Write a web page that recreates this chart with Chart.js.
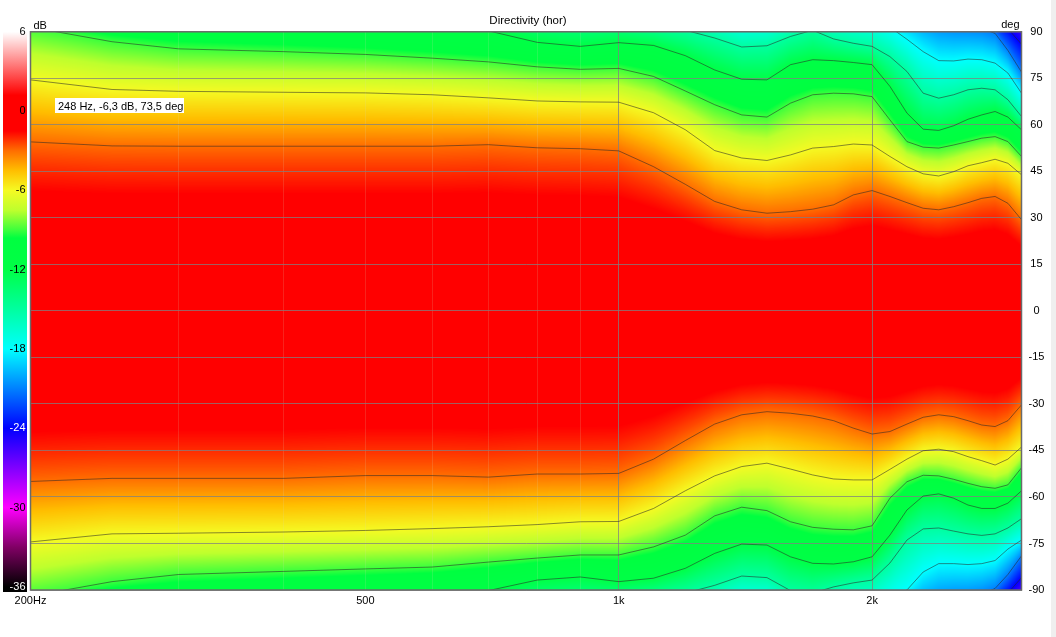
<!DOCTYPE html>
<html>
<head>
<meta charset="utf-8">
<title>Directivity (hor)</title>
<script src="https://cdn.jsdelivr.net/npm/chart.js@4.4.1/dist/chart.umd.min.js"></script>
<style>
  html, body { margin: 0; padding: 0; background: #fff; }
  #wrap { position: relative; width: 1056px; height: 637px; }
</style>
</head>
<body>
<div id="wrap"><canvas id="directivity"></canvas></div>
<script>
var freqs = [200, 250, 300, 400, 500, 600, 700, 800, 900, 1000, 1100, 1200, 1300, 1400, 1500,
             1600, 1700, 1800, 1900, 2000, 2100, 2200, 2300, 2400, 2500, 2600, 2700, 2800, 2900, 3010];

// Contour levels (dB re on-axis)
var levels = [-3, -6, -9, -12, -15, -18, -21, -24];

// Angle (deg) of each contour on the upper (+) side
var up3  = [54.5, 53.2, 53.1, 53.1, 53.1, 53.1, 53.6, 52.6, 52.3, 51.6, 46.5, 40.8, 35.3, 32.6, 31.5,
            32.0, 32.8, 34.2, 37.4, 38.8, 36.9, 34.9, 33.1, 32.6, 33.6, 34.9, 36.3, 36.9, 34.7, 29.4];
var up6  = [74.5, 71.4, 70.8, 70.5, 70.3, 69.7, 68.7, 67.7, 67.4, 67.3, 63.9, 58.4, 51.7, 49.3, 48.5,
            50.3, 52.5, 53.0, 53.8, 53.5, 49.8, 46.5, 44.2, 43.5, 44.9, 46.8, 47.8, 48.9, 47.6, 43.9];
var up9  = [91.5, 86.8, 84.5, 83.6, 82.7, 81.5, 80.3, 78.7, 77.9, 78.2, 75.6, 70.9, 66.5, 63.2, 62.5,
            67.0, 69.7, 70.2, 70.0, 69.1, 61.6, 54.6, 52.8, 52.5, 53.5, 54.6, 55.7, 56.2, 54.6, 49.8];
var up12 = [100, 98, 97, 95, 93.5, 92, 90.3, 86.6, 85.3, 86.5, 85.6, 82.3, 77.7, 74.7, 74.5,
            79.4, 81.0, 80.7, 80.1, 79.4, 72.4, 63.8, 58.6, 58.2, 59.7, 61.8, 63.2, 64.3, 62.5, 58.4];
var up15 = [110, 108, 106, 104, 102, 100, 98, 96, 95, 94, 92, 90.5, 88.0, 85.1, 85.5,
            88.5, 90.5, 87.7, 86.3, 85.3, 82.0, 77.2, 70.2, 68.6, 69.7, 71.3, 71.8, 71.3, 68.1, 62.7];
var up18 = [120, 118, 116, 114, 112, 110, 108, 106, 104, 102, 100, 98, 96, 94, 94,
            96, 97, 96, 95, 94, 91.5, 87.6, 83.6, 80.7, 80.6, 81.2, 81.0, 79.9, 76.7, 70.2];
var up21 = [130, 128, 126, 124, 122, 120, 118, 116, 114, 112, 110, 108, 106, 104, 104,
            106, 107, 106, 105, 104, 101, 98, 95, 93, 92, 91.5, 91, 89.5, 84, 77];
var up24 = [140, 138, 136, 134, 132, 130, 128, 126, 124, 122, 120, 118, 116, 114, 114,
            116, 117, 116, 115, 114, 110, 106, 103, 101, 99, 97, 95.5, 94, 91, 86];

// Angle (deg) of each contour on the lower (-) side
var lo3  = [-55.0, -54.0, -54.0, -54.0, -53.1, -53.1, -53.6, -52.6, -52.6, -52.4, -47.8, -41.8, -36.5, -33.5, -32.5,
            -33.0, -33.9, -35.4, -37.8, -39.7, -38.9, -36.5, -34.3, -33.5, -34.1, -35.4, -36.8, -37.3, -35.4, -30.3];
var lo6  = [-74.5, -71.9, -71.7, -71.3, -70.8, -70.2, -69.6, -68.9, -68.0, -67.9, -63.7, -58.0, -53.2, -50.2, -49.1,
            -51.0, -52.9, -54.2, -54.5, -54.5, -51.1, -47.8, -45.1, -44.6, -45.4, -47.0, -48.3, -49.7, -47.8, -43.9];
var lo9  = [-92, -87.3, -85.0, -84.0, -83.2, -82.6, -81.0, -79.7, -78.7, -78.7, -76.1, -72.3, -66.1, -63.3, -64.4,
            -68.0, -69.8, -70.4, -70.6, -69.3, -60.4, -55.1, -53.0, -53.2, -54.3, -55.6, -56.7, -57.2, -56.1, -50.6];
var lo12 = [-100, -98, -97, -95, -93.5, -92, -90.2, -86.8, -85.8, -87.3, -86.2, -83.0, -78.2, -75.2, -75.5,
            -79.3, -81.4, -81.6, -80.9, -79.3, -72.3, -64.2, -59.7, -59.0, -60.4, -62.6, -63.7, -63.7, -62.0, -58.0];
var lo15 = [-110, -108, -106, -104, -102, -100, -98, -96, -95, -94, -92.5, -91, -88.5, -85.5, -86.0,
            -90.2, -91, -89.0, -87.7, -86.8, -81.3, -73.9, -70.3, -70.0, -71.0, -71.9, -72.4, -71.9, -70.0, -67.0];
var lo18 = [-120, -118, -116, -114, -112, -110, -108, -106, -104, -102, -100, -98, -96, -94, -94,
            -96, -97, -97, -96.5, -96, -93, -90, -84.2, -81.5, -81.5, -81.8, -81.5, -80.5, -76.8, -73.9];
var lo21 = [-130, -128, -126, -124, -122, -120, -118, -116, -114, -112, -110, -108, -106, -104, -104,
            -106, -107, -107, -106, -105, -102, -99, -96, -94, -93, -92.5, -91.5, -89.5, -85, -79];
var lo24 = [-140, -138, -136, -134, -132, -130, -128, -126, -124, -122, -120, -118, -116, -114, -114,
            -116, -117, -117, -116, -115, -111, -107, -104, -102, -100, -99, -97, -95, -91, -86];

// Axis ticks
var xTickValues = [200, 500, 1000, 2000];
var xTickLabels = ['200Hz', '500', '1k', '2k'];
var xMinorGrid  = [300, 400, 600, 700, 800, 900];
var cursorText  = '248 Hz, -6,3 dB, 73,5 deg';

var upper = [up3, up6, up9, up12, up15, up18, up21, up24];
var lower = [lo3, lo6, lo9, lo12, lo15, lo18, lo21, lo24];

// colour scale of the dB bar
var colorStops = [
    [6, [255, 255, 255]], [1.2, [255, 0, 0]], [-1.5, [255, 0, 0]], [-3, [255, 110, 0]],
    [-4.5, [255, 190, 0]], [-6, [245, 250, 35]], [-7.5, [190, 255, 45]], [-9, [60, 255, 60]],
    [-9.6, [0, 255, 64]], [-12, [0, 255, 70]], [-15, [0, 255, 160]], [-18, [0, 255, 255]],
    [-21, [0, 128, 255]], [-24, [0, 0, 255]], [-27, [128, 0, 255]], [-30, [255, 0, 255]],
    [-33, [128, 0, 100]], [-36, [0, 0, 0]]
];
var FONT = '"Liberation Sans", Arial, sans-serif';
var DB_MIN = -36.23;   // colour bar ends a few pixels below the -36 label

function colorFor(db) {
    if (db >= colorStops[0][0]) return colorStops[0][1];
    for (var i = 1; i < colorStops.length; i++) {
        if (db >= colorStops[i][0]) {
            var a = colorStops[i - 1], b = colorStops[i];
            var t = (a[0] - db) / (a[0] - b[0]);
            return [0, 1, 2].map(function (c) { return Math.round(a[1][c] + t * (b[1][c] - a[1][c])); });
        }
    }
    return colorStops[colorStops.length - 1][1];
}

// lookup table, 0.02 dB steps from +6 to -40
var LUT = [];
for (var d = 0; d <= 2300; d++) LUT.push(colorFor(6 - d * 0.02));

function angleAt(list, f) {
    if (f <= freqs[0]) return list[0];
    var lf = Math.log(f);
    for (var i = 1; i < freqs.length; i++) {
        if (f <= freqs[i]) {
            var l0 = Math.log(freqs[i - 1]), l1 = Math.log(freqs[i]);
            return list[i - 1] + (lf - l0) / (l1 - l0) * (list[i] - list[i - 1]);
        }
    }
    return list[list.length - 1];
}

// level at angle a (>=0) given the contour angles of that column
function levelAt(a, ang) {
    if (a <= ang[0]) { var r = a / ang[0]; return -3 * r * r; }
    for (var k = 1; k < ang.length; k++) {
        if (a <= ang[k]) return levels[k - 1] + (levels[k] - levels[k - 1]) * (a - ang[k - 1]) / (ang[k] - ang[k - 1]);
    }
    var n = ang.length - 1;
    return levels[n] + (levels[n] - levels[n - 1]) * (a - ang[n]) / (ang[n] - ang[n - 1]);
}

var heatmap = {
    id: 'heatmap',
    beforeDraw: function (chart) {
        var ctx = chart.ctx, area = chart.chartArea;
        var xs = chart.scales.x, ys = chart.scales.y, yd = chart.scales.yDb;
        var w = Math.round(area.right - area.left), h = Math.round(area.bottom - area.top);
        var off = document.createElement('canvas');
        off.width = w; off.height = h;
        var octx = off.getContext('2d');
        var img = octx.createImageData(w, h);
        var rows = [];
        for (var j = 0; j < h; j++) rows.push(ys.getValueForPixel(area.top + (j + 0.5) * (area.bottom - area.top) / h));
        for (var i = 0; i < w; i++) {
            var f = xs.getValueForPixel(area.left + (i + 0.5) * (area.right - area.left) / w);
            var up = upper.map(function (l) { return angleAt(l, f); });
            var lo = lower.map(function (l) { return -angleAt(l, f); });
            for (j = 0; j < h; j++) {
                var a = rows[j];
                var db = a >= 0 ? levelAt(a, up) : levelAt(-a, lo);
                var idx = Math.round((6 - db) / 0.02);
                if (idx < 0) idx = 0;
                if (idx >= LUT.length) idx = LUT.length - 1;
                var c = LUT[idx], p = (j * w + i) * 4;
                img.data[p] = c[0]; img.data[p + 1] = c[1]; img.data[p + 2] = c[2]; img.data[p + 3] = 255;
            }
        }
        octx.putImageData(img, 0, 0);
        ctx.save();
        ctx.drawImage(off, area.left, area.top, area.right - area.left, area.bottom - area.top);

        // colour bar
        var t = yd.getPixelForValue(6), b = yd.getPixelForValue(-36);
        var g = ctx.createLinearGradient(0, t, 0, b);
        colorStops.forEach(function (s) {
            g.addColorStop((6 - s[0]) / 42, 'rgb(' + s[1].join(',') + ')');
        });
        ctx.fillStyle = g;
        ctx.fillRect(3, t, 24, area.bottom + 2 - t);
        ctx.restore();
    },
    afterDraw: function (chart) {
        var ctx = chart.ctx, area = chart.chartArea;
        ctx.save();
        ctx.strokeStyle = '#6a6a6a';
        ctx.lineWidth = 1.5;
        ctx.strokeRect(area.left, area.top, area.right - area.left, area.bottom - area.top);

        ctx.font = '11px ' + FONT;
        ctx.fillStyle = '#000';
        ctx.textBaseline = 'alphabetic';
        ctx.textAlign = 'left';
        ctx.fillText('dB', area.left + 3, area.top - 3);
        ctx.textAlign = 'right';
        ctx.fillText('deg', area.right - 2, area.top - 4);

        // cursor read-out
        ctx.fillStyle = '#fff';
        ctx.fillRect(55, 98, 129, 15);
        ctx.fillStyle = '#000';
        ctx.textAlign = 'left';
        ctx.fillText(cursorText, 58, 109.5);

        ctx.fillStyle = '#efefef';
        ctx.fillRect(1051, 0, 5, 637);
        ctx.restore();
    }
};

var contourSets = [];
levels.forEach(function (lv, k) {
    [upper[k], lower[k]].forEach(function (arr) {
        contourSets.push({
            label: lv + ' dB',
            data: freqs.map(function (f, i) { return { x: f, y: arr[i] }; }),
            borderColor: 'rgba(40,40,40,0.55)',
            borderWidth: 1,
            pointRadius: 0,
            tension: 0,
            fill: false,
            xAxisID: 'x',
            yAxisID: 'y'
        });
    });
});

var tickFont = { family: FONT, size: 11 };

new Chart(document.getElementById('directivity'), {
    type: 'line',
    data: { datasets: contourSets },
    options: {
        responsive: true,
        maintainAspectRatio: false,
        animation: false,
        events: [],
        layout: { padding: 0 },
        plugins: {
            legend: { display: false },
            tooltip: { enabled: false },
            title: {
                display: true,
                text: 'Directivity (hor)',
                color: '#000',
                font: { family: FONT, size: 11.5, weight: 'normal' },
                padding: { top: 14, bottom: 4 }
            }
        },
        scales: {
            x: {
                type: 'logarithmic',
                position: 'bottom',
                min: 200,
                max: 3010,
                afterBuildTicks: function (s) {
                    s.ticks = xTickValues.concat(xMinorGrid).sort(function (a, b) { return a - b; })
                        .map(function (v) { return { value: v }; });
                },
                afterFit: function (s) { s.height = 47; },
                ticks: {
                    autoSkip: false,
                    maxRotation: 0,
                    padding: 4,
                    color: '#000',
                    font: tickFont,
                    callback: function (v) {
                        var k = xTickValues.indexOf(v);
                        return k < 0 ? '' : xTickLabels[k];
                    }
                },
                grid: {
                    drawTicks: false,
                    color: function (c) {
                        var v = c.tick && c.tick.value;
                        if (v === 1000 || v === 2000) return 'rgba(128,128,128,0.75)';
                        if (v === 200) return 'rgba(0,0,0,0)';
                        return 'rgba(220,220,180,0.16)';
                    }
                },
                border: { display: false }
            },
            y: {
                type: 'linear',
                position: 'right',
                min: -90,
                max: 90,
                afterFit: function (s) { s.width = 34.5; },
                ticks: { stepSize: 15, padding: 7, crossAlign: 'center', color: '#000', font: tickFont },
                grid: { drawTicks: false, color: 'rgba(128,128,128,0.75)' },
                border: { display: false }
            },
            yDb: {
                type: 'linear',
                position: 'left',
                min: DB_MIN,
                max: 6,
                afterFit: function (s) { s.width = 30.5; },
                ticks: {
                    stepSize: 6,
                    includeBounds: false,
                    padding: 5,
                    font: tickFont,
                    color: function (c) {
                        var v = c.tick && c.tick.value;
                        return (v === -24 || v === -36) ? '#fff' : '#000';
                    }
                },
                grid: { display: false, drawTicks: false },
                border: { display: false }
            }
        }
    },
    plugins: [heatmap]
});
</script>
</body>
</html>
